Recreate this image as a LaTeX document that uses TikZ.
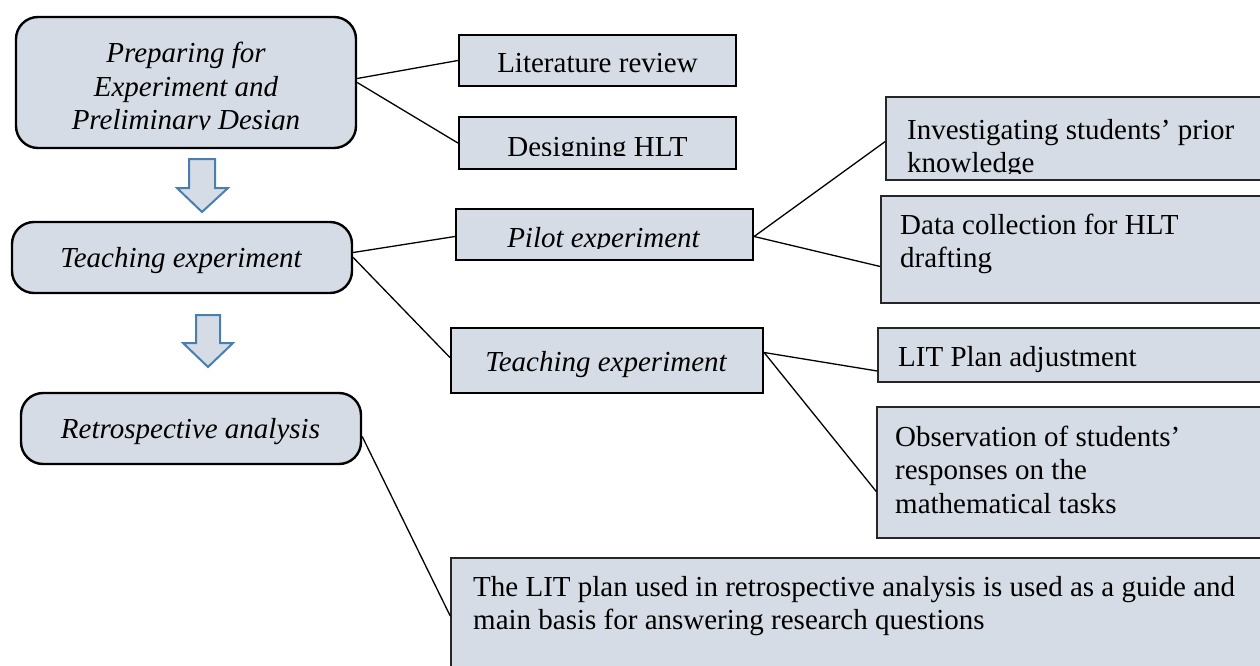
\documentclass[tikz,border=0pt]{standalone}
\usepackage{fontspec}
\setmainfont{Liberation Serif}
\definecolor{boxfill}{HTML}{D6DCE5}
\definecolor{arrowblue}{HTML}{4A7DB0}
\begin{document}
\begin{tikzpicture}[x=1pt,y=-1pt,
  rbox/.style={draw=black, line width=2.4pt, fill=boxfill, rounded corners=22pt, inner sep=0pt},
  sbox/.style={draw=black, line width=2.2pt, fill=boxfill, inner sep=0pt},
  wbox/.style={draw=black!85, line width=1.5pt, fill=boxfill, inner sep=0pt},
  txt/.style={inner sep=0pt, font=\fontsize{29}{33.3}\selectfont},
  itxt/.style={inner sep=0pt, font=\fontsize{29}{33.5}\selectfont\itshape},
  link/.style={draw=black, line width=1.3pt},
  blockarrow/.style={draw=arrowblue, fill=boxfill, line width=2pt, line join=miter}]
\useasboundingbox (0,0) rectangle (1260,666);
\clip (0,0) rectangle (1260,666);

% boxes
\node[rbox, minimum width=340pt, minimum height=131pt] (prep) at (186,82.5) {};
\node[sbox, minimum width=277pt, minimum height=51pt] (lit) at (597.5,60.5) {};
\node[sbox, minimum width=277pt, minimum height=52pt] (des) at (597.5,143) {};
\node[rbox, minimum width=340pt, minimum height=71pt] (teach) at (182,257.5) {};
\node[rbox, minimum width=340pt, minimum height=71pt] (retro) at (191,428.5) {};
\node[sbox, minimum width=297pt, minimum height=51pt] (pilot) at (604.5,234.5) {};
\node[sbox, minimum width=312pt, minimum height=65pt] (texp) at (607,360.5) {};
\node[wbox, minimum width=389pt, minimum height=83pt] (inv) at (1080.5,138.5) {};
\node[wbox, minimum width=394pt, minimum height=107pt] (data) at (1078,249.5) {};
\node[wbox, minimum width=397pt, minimum height=54pt] (litp) at (1076.5,355) {};
\node[wbox, minimum width=398pt, minimum height=131pt] (obs) at (1076,472.5) {};
\node[wbox, minimum width=824pt, minimum height=132pt] (bot) at (863,624) {};

% block arrows
\draw[blockarrow] (189,159) -- (215,159) -- (215,188) -- (228,188) -- (202,212) -- (177,188) -- (189,188) -- cycle;
\draw[blockarrow] (196,315) -- (220,315) -- (220,343) -- (233,343) -- (208,367) -- (183,343) -- (196,343) -- cycle;

% connectors
\draw[link] ([yshift=4pt]prep.east) -- (lit.west);
\draw[link] (prep.east) -- (des.west);
\draw[link] ([yshift=5pt]teach.east) -- ([yshift=-2pt]pilot.west);
\draw[link] (teach.east) -- ([yshift=3pt]texp.west);
\draw[link] ([yshift=-2pt]pilot.east) -- ([yshift=-3pt]inv.west);
\draw[link] ([yshift=-2pt]pilot.east) -- ([yshift=-17pt]data.west);
\draw[link] ([yshift=8pt]texp.east) -- ([yshift=-16pt]litp.west);
\draw[link] ([yshift=8pt]texp.east) -- ([yshift=-19pt]obs.west);
\draw[link] ([yshift=-8pt]retro.east) -- ([yshift=8pt]bot.west);

% texts
\begin{scope}
\clip (16,17) rectangle (356,130);
\node[itxt, anchor=north, align=center] (preptxt) at (186,42) {Preparing for\\Experiment and\\Preliminary Design};
\end{scope}
\node[txt, anchor=base] (littxt) at (597.5,73) {Literature review};
\begin{scope}
\clip (459,117) rectangle (736,155);
\node[txt, anchor=base] (destxt) at (597.5,156) {Designing HLT};
\end{scope}
\node[itxt, anchor=base] (teachtxt) at (181,267) {Teaching experiment};
\node[itxt, anchor=base] (retrotxt) at (190.5,438) {Retrospective analysis};
\begin{scope}
\clip (456,209) rectangle (753,248);
\node[itxt, anchor=base] (pilottxt) at (603.5,247) {Pilot experiment};
\end{scope}
\node[itxt, anchor=base] (texptxt) at (606,371) {Teaching experiment};
\begin{scope}
\clip (886,97) rectangle (1275,173);
\node[txt, anchor=north west, align=left] (invtxt) at (907,119) {Investigating students’ prior\\knowledge};
\end{scope}
\node[txt, anchor=north west, align=left] (datatxt) at (900,214) {Data collection for HLT\\drafting};
\node[txt, anchor=base west] (litptxt) at (898,366) {LIT Plan adjustment};
\node[txt, anchor=north west, align=left] (obstxt) at (895,426) {Observation of students’\\responses on the\\mathematical tasks};
\node[txt, anchor=north west, align=left] (bottxt) at (473,576) {The LIT plan used in retrospective analysis is used as a guide and\\main basis for answering research questions};
\end{tikzpicture}
\end{document}
